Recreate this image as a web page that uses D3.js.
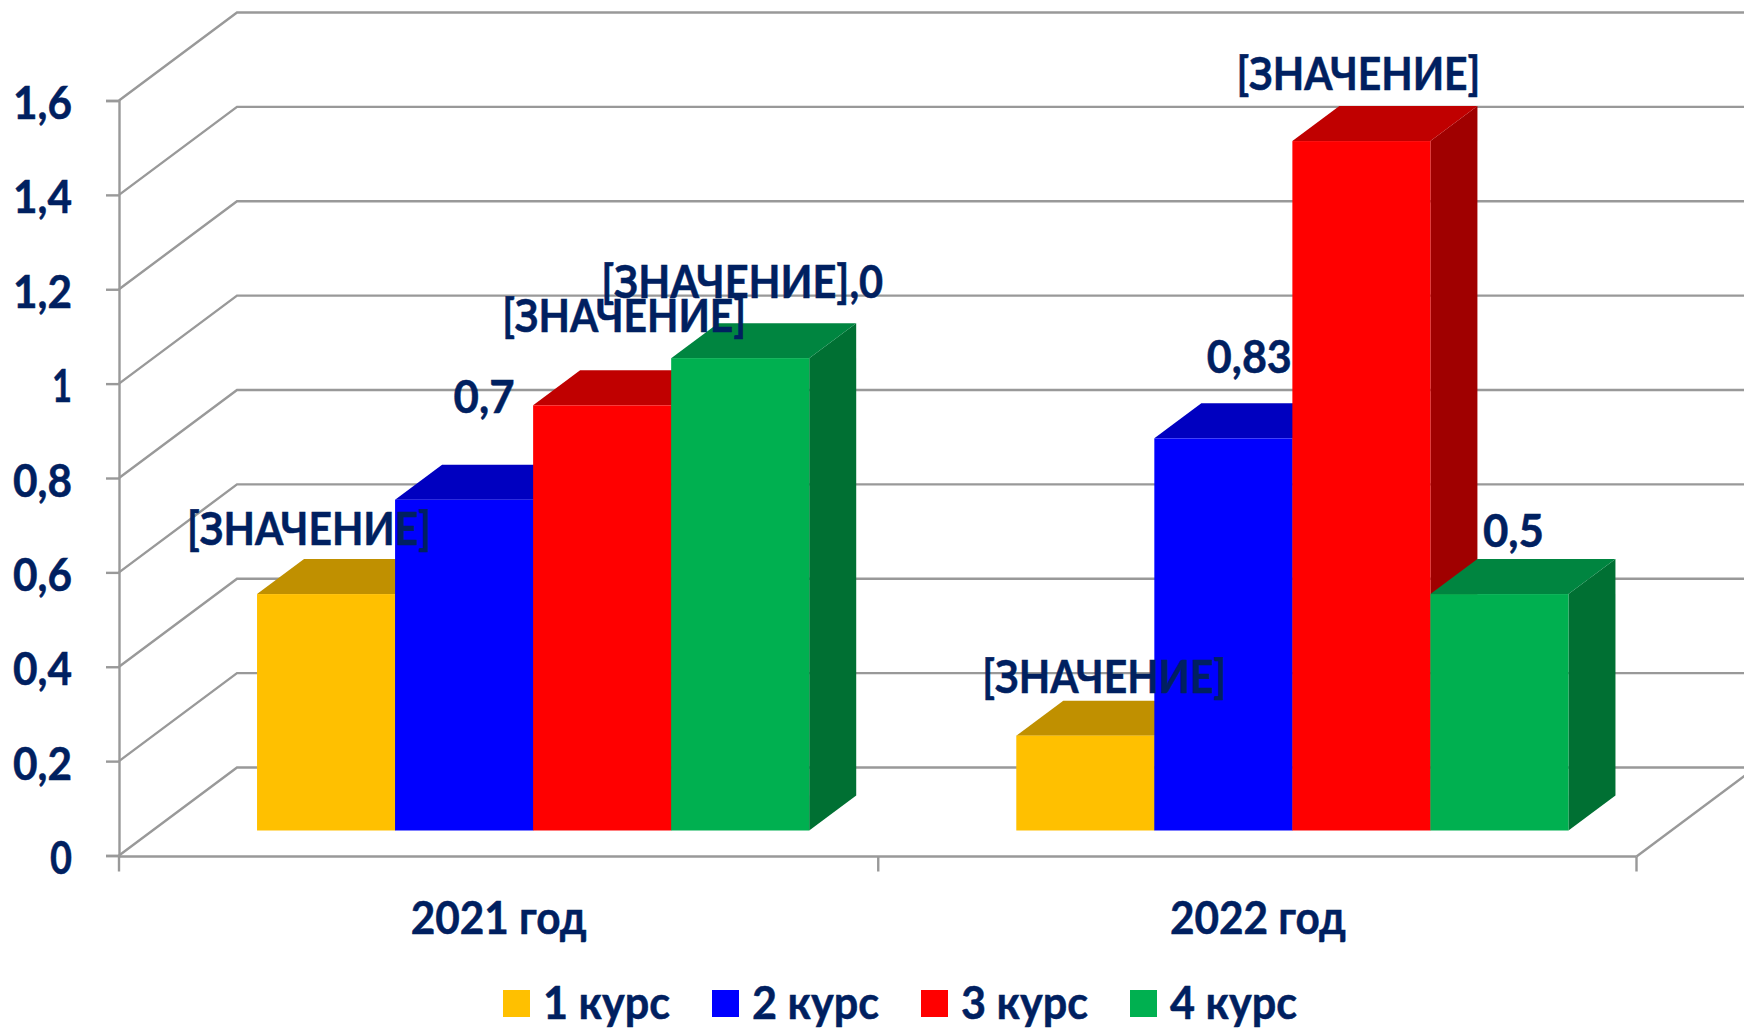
<!DOCTYPE html>
<html><head><meta charset="utf-8">
<style>html,body{margin:0;background:#fff}svg{display:block}text{font-family:Lato,"Open Sans",sans-serif;font-weight:700;fill:#002060;stroke:#002060;stroke-width:0.5px}</style>
<script src="https://cdn.jsdelivr.net/npm/d3@7"></script></head><body>
<svg id="c" width="1744" height="1031"></svg>
<script>
const categories=["2021 год","2022 год"];
const seriesNames=["1 курс","2 курс","3 курс","4 курс"];
const values2021=[0.5,0.7,0.9,1.0];
const values2022=[0.2,0.83,1.46,0.5];
const labels2021=["[ЗНАЧЕНИЕ]","0,7","[ЗНАЧЕНИЕ]","[ЗНАЧЕНИЕ],0"];
const labels2022=["[ЗНАЧЕНИЕ]","0,83","[ЗНАЧЕНИЕ]","0,5"];
const yTicks=[0,0.2,0.4,0.6,0.8,1,1.2,1.4,1.6];
const frontColors=["#FFC000","#0000FF","#FF0000","#00B050"];
const topColors=["#C09000","#0000C0","#C00000","#008540"];
const sideColors=["#A07800","#0000A0","#A00000","#007033"];

const svg=d3.select("#c");
const FS=45, GRID="#999999";
const x0=d3.scaleBand().domain(categories).range([119,1637.5]);
const x1=d3.scaleBand().domain(seriesNames).range([0,x0.bandwidth()]).paddingInner(0).paddingOuter(0.75);
const y=d3.scaleLinear().domain([0,1.6]).range([855.5,100.5]);
const wall={dx:118,dy:-88}, barFront={dx:34.5,dy:-25.5}, barDepth={dx:47,dy:-35};
const axisY=856.5;

const g=svg.append("g").attr("fill","none").attr("stroke",GRID).attr("stroke-width",2.4);
yTicks.forEach(t=>{
  const v=y(t);
  g.append("path").attr("d",d3.line()([[x0.range()[0],v],[x0.range()[0]+wall.dx,v+wall.dy],[1744,v+wall.dy]]));
});
g.append("path").attr("d",d3.line()([[x0.range()[1]-1,axisY],[x0.range()[1]-1+wall.dx,axisY+wall.dy]]));
g.append("line").attr("x1",x0.range()[0]).attr("x2",x0.range()[1]-1).attr("y1",axisY).attr("y2",axisY);
[...categories.map(c=>x0(c)),x0.range()[1]-1].forEach(v=>g.append("line").attr("x1",v).attr("x2",v).attr("y1",axisY).attr("y2",axisY+15));

const tickWidth=d=>d===0?22:d===1?20:59;
const ya=svg.append("g").attr("transform",`translate(${x0.range()[0]},0)`)
  .call(d3.axisLeft(y).tickValues(yTicks).tickSize(13).tickPadding(34).tickFormat(d=>String(d).replace(".",",")));
ya.select(".domain").attr("stroke",GRID).attr("stroke-width",2.4);
ya.selectAll(".tick line").attr("stroke",GRID).attr("stroke-width",2.4);
ya.selectAll("text").attr("font-size",FS).attr("font-family",null).attr("dy","0.40em")
  .attr("textLength",d=>tickWidth(d)).attr("lengthAdjust","spacingAndGlyphs");

const allValues=[values2021,values2022], allLabels=[labels2021,labels2022];
const labelShift=[[[-17,-49],[20,-87],[22,-73],[2,-60]],[[19,-43],[26,-65],[-3,-51],[14,-47]]];
const labelWidth={"[ЗНАЧЕНИЕ]":244,"[ЗНАЧЕНИЕ],0":282,"0,7":61,"0,83":85,"0,5":61};
const base=y(0)+barFront.dy+0.5;
const labelLayer=[];
categories.forEach((c,ci)=>{
  seriesNames.forEach((s,si)=>{
    const xl=x0(c)+x1(s)+barFront.dx, w=x1.bandwidth(), v=allValues[ci][si];
    const top=y(v)+barFront.dy;
    const d=barDepth;
    svg.append("path").attr("fill",sideColors[si]).attr("d",d3.line()([[xl+w,top],[xl+w+d.dx,top+d.dy],[xl+w+d.dx,base+d.dy],[xl+w,base]])+"Z");
    svg.append("path").attr("fill",topColors[si]).attr("d",d3.line()([[xl,top],[xl+d.dx,top+d.dy],[xl+w+d.dx,top+d.dy],[xl+w,top]])+"Z");
    svg.append("rect").attr("x",xl).attr("y",top).attr("width",w).attr("height",base-top).attr("fill",frontColors[si]);
    labelLayer.push({t:allLabels[ci][si],x:xl+w/2+labelShift[ci][si][0],y:top+labelShift[ci][si][1]});
  });
});
labelLayer.forEach(l=>svg.append("text").attr("x",l.x).attr("y",l.y).attr("text-anchor","middle").attr("font-size",FS)
  .attr("textLength",labelWidth[l.t]).attr("lengthAdjust","spacingAndGlyphs").text(l.t));

categories.forEach(c=>svg.append("text").attr("x",x0(c)+x0.bandwidth()/2).attr("y",933.5).attr("text-anchor","middle").attr("font-size",FS)
  .attr("textLength",176).attr("lengthAdjust","spacingAndGlyphs").text(c));

const legendX=d3.scalePoint().domain(seriesNames).range([503,1130]);
seriesNames.forEach((s,i)=>{
  const lx=legendX(s);
  svg.append("rect").attr("x",lx).attr("y",990).attr("width",27).attr("height",27).attr("fill",frontColors[i]);
  svg.append("text").attr("x",lx+40).attr("y",1018.5).attr("font-size",FS).attr("textLength",127).attr("lengthAdjust","spacingAndGlyphs").text(s);
});
</script></body></html>
